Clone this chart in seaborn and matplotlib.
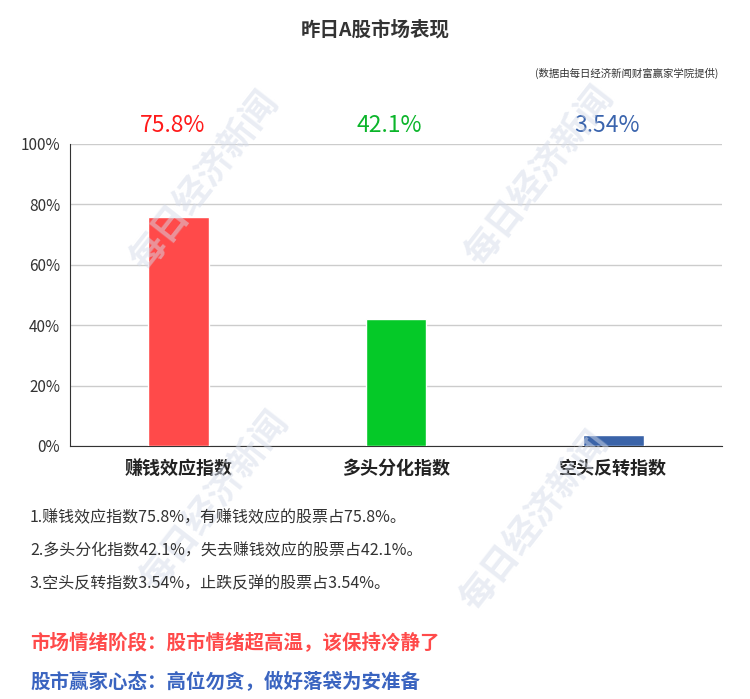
import pandas as pd
import seaborn as sns
import matplotlib.pyplot as plt
from matplotlib.ticker import PercentFormatter

categories = ['赚钱效应指数', '多头分化指数', '空头反转指数']
values = [75.8, 42.1, 3.54]
value_labels = ['75.8%', '42.1%', '3.54%']
bar_colors = ['#FF4A4A', '#05C928', '#3A63A8']
label_colors = ['#FF1A1A', '#0BB52A', '#3A64AD']
notes = [
    '1.赚钱效应指数75.8%，有赚钱效应的股票占75.8%。',
    '2.多头分化指数42.1%，失去赚钱效应的股票占42.1%。',
    '3.空头反转指数3.54%，止跌反弹的股票占3.54%。',
]
stage_text = '市场情绪阶段：股市情绪超高温，该保持冷静了'
mood_text = '股市赢家心态：高位勿贪，做好落袋为安准备'


def main():
    sns.set_style('white')
    plt.rcParams['font.family'] = ['Noto Sans CJK SC', 'DejaVu Sans']

    df = pd.DataFrame({'cat': categories, 'val': values})
    fig = plt.figure(figsize=(7.5, 6.99), dpi=100)
    ax = fig.add_axes([70 / 750, 1 - 446 / 699, 652 / 750, 302 / 699])

    # watermarks
    for x, y in [(205, 180), (540, 175), (215, 500), (535, 520)]:
        fig.text(x / 750, 1 - y / 699, '每日经济新闻', fontsize=26, fontweight='bold',
                 color='#D5DCEA', alpha=0.5, rotation=52, ha='center', va='center', zorder=0)

    sns.barplot(df, x='cat', y='val', hue='cat', palette=bar_colors, width=0.28,
                saturation=1, legend=False, ax=ax, zorder=3)
    ax.set_ylim(0, 100)
    ax.set_yticks(range(0, 101, 20))
    ax.yaxis.set_major_formatter(PercentFormatter(decimals=0))
    ax.grid(axis='y', color='#CCCCCC', linewidth=1, zorder=0)
    ax.set_axisbelow(True)
    ax.set_xlabel('')
    ax.set_ylabel('')
    for s in ['top', 'right']:
        ax.spines[s].set_visible(False)
    ax.spines['left'].set_color('#333333')
    ax.spines['bottom'].set_color('#333333')
    ax.tick_params(axis='y', length=5, color='#333333', labelsize=11, labelcolor='#333333', pad=2)
    ax.tick_params(axis='x', length=5, color='#333333', labelsize=13, pad=4)
    for t in ax.get_xticklabels():
        t.set_fontweight('bold')
        t.set_color('#222222')

    for i, (lab, c) in enumerate(zip(value_labels, label_colors)):
        ax.text(i - 0.03, 106, lab, color=c, fontsize=16.5, ha='center', va='center',
                transform=ax.transData, clip_on=False)

    fig.text(0.5, 1 - 30 / 699, '昨日A股市场表现', ha='center', va='center',
             fontsize=14, fontweight='bold', color='#333333')
    fig.text(718 / 750, 1 - 73 / 699, '(数据由每日经济新闻财富赢家学院提供)', ha='right',
             va='center', fontsize=7.5, color='#333333')

    for y, line in zip([518, 551, 584], notes):
        fig.text(30 / 750, 1 - y / 699, line, ha='left', va='center', fontsize=11.5,
                 fontweight='medium', color='#333333')
    fig.text(30 / 750, 1 - 642 / 699, stage_text, ha='left', va='center', fontsize=14,
             fontweight='bold', color='#FF4A4A')
    fig.text(30 / 750, 1 - 682 / 699, mood_text, ha='left', va='center', fontsize=14,
             fontweight='bold', color='#3A64C0')

    fig.savefig('out.png', dpi=100)


if __name__ == "__main__":
    main()
